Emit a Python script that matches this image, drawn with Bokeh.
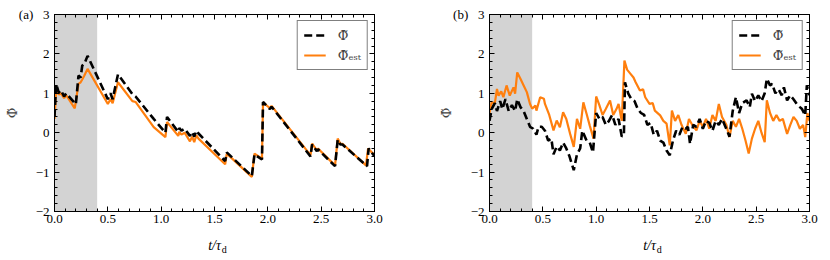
from bokeh.plotting import figure
from bokeh.layouts import row, column
from bokeh.models import (LinearAxis, SingleIntervalTicker, BoxAnnotation, Legend,
                          LegendItem, Range1d)
from bokeh.core.properties import value
from bokeh.embed import file_html
from bokeh.resources import INLINE

# ---------------- data ----------------
# panel (a)
a_t_phi = [0.0, 0.015, 0.04, 0.06, 0.09, 0.11, 0.20, 0.225, 0.245, 0.26, 0.28, 0.31,
           0.50, 0.525, 0.545, 0.595, 0.73, 0.76, 0.93, 1.04, 1.055, 1.16, 1.17, 1.19,
           1.22, 1.27, 1.29, 1.31, 1.33, 1.35, 1.60, 1.615, 1.85, 1.875, 1.945, 1.955,
           2.02, 2.035, 2.40, 2.415, 2.46, 2.47, 2.63, 2.655, 2.68, 2.70, 2.93, 2.945, 3.0]
a_phi = [0.4, 1.24, 1.02, 1.08, 0.92, 1.0, 0.72, 1.45, 1.4, 1.7, 1.75, 1.95,
         0.85, 1.0, 0.85, 1.48, 0.98, 0.92, 0.35, 0.0, 0.4, 0.02, 0.12, 0.05,
         0.1, -0.08, 0.02, -0.1, 0.05, -0.02, -0.72, -0.5, -1.1, -0.55, -0.68, 0.78,
         0.6, 0.66, -0.6, -0.3, -0.47, -0.42, -0.85, -0.18, -0.3, -0.3, -0.85, -0.4, -0.6]
a_t_est = [0.0, 0.015, 0.04, 0.06, 0.09, 0.11, 0.19, 0.225, 0.245, 0.26, 0.28, 0.31,
           0.50, 0.525, 0.545, 0.595, 0.73, 0.76, 0.93, 1.04, 1.055, 1.16, 1.17, 1.19,
           1.22, 1.27, 1.29, 1.31, 1.33, 1.35, 1.60, 1.615, 1.85, 1.875, 1.945, 1.955,
           2.02, 2.035, 2.40, 2.415, 2.46, 2.47, 2.63, 2.655, 2.68, 2.70, 2.92, 2.94, 3.0]
a_est = [0.35, 1.07, 0.97, 1.0, 0.88, 0.95, 0.62, 1.24, 1.28, 1.35, 1.45, 1.62,
         0.73, 0.85, 0.75, 1.28, 0.8, 0.78, 0.14, -0.11, 0.27, -0.08, 0.02, -0.05,
         0.0, -0.22, -0.1, -0.24, -0.07, -0.15, -0.8, -0.53, -1.12, -0.53, -0.66, 0.77,
         0.62, 0.68, -0.57, -0.28, -0.45, -0.4, -0.83, -0.15, -0.28, -0.28, -0.83, -0.4, -0.57]

# panel (b)
b_t_phi = [0.0, 0.02, 0.05, 0.07, 0.10, 0.12, 0.15, 0.18, 0.21, 0.24, 0.26, 0.29, 0.32,
           0.35, 0.38, 0.41, 0.44, 0.46, 0.49, 0.52, 0.55, 0.58, 0.60, 0.63, 0.66, 0.69,
           0.72, 0.75, 0.79, 0.82, 0.85, 0.87, 0.91, 0.94, 0.97, 1.0, 1.03, 1.06, 1.09,
           1.12, 1.15, 1.18, 1.21, 1.24, 1.26, 1.27, 1.30, 1.33, 1.36, 1.39, 1.42, 1.45,
           1.48, 1.51, 1.54, 1.57, 1.60, 1.63, 1.66, 1.69, 1.72, 1.75, 1.78, 1.81, 1.84,
           1.86, 1.88, 1.91, 1.94, 1.97, 2.0, 2.03, 2.06, 2.09, 2.12, 2.15, 2.18, 2.22,
           2.25, 2.28, 2.31, 2.34, 2.37, 2.41, 2.44, 2.46, 2.49, 2.52, 2.55, 2.58, 2.60,
           2.63, 2.65, 2.68, 2.71, 2.74, 2.76, 2.79, 2.82, 2.85, 2.88, 2.91, 2.93, 2.96,
           2.975, 3.0]
b_phi = [0.3, 0.6, 0.75, 0.55, 0.8, 0.6, 0.85, 0.55, 0.7, 0.55, 0.85, 0.65, 0.55,
         0.35, 0.15, 0.1, -0.05, 0.15, 0.15, 0.05, -0.2, -0.15, -0.55, -0.35, -0.45, -0.25,
         -0.4, -0.6, -0.95, -0.55, -0.4, 0.05, -0.2, -0.25, -0.5, 0.5, 0.35, 0.4, 0.2,
         0.3, 0.45, 0.2, 0.35, -0.1, -0.05, 1.28, 1.0, 0.85, 0.8, 0.6, 0.5, 0.45,
         0.2, 0.25, -0.05, 0.05, -0.2, -0.25, -0.45, -0.57, -0.2, 0.05, -0.05, 0.15, 0.1,
         0.15, -0.28, 0.2, 0.15, 0.35, 0.1, 0.3, 0.25, 0.05, 0.3, 0.2, 0.35, 0.1,
         -0.1, 0.55, 0.9, 0.5, 0.75, 0.82, 0.65, 0.99, 0.8, 0.95, 0.8, 1.0, 1.37,
         1.2, 1.24, 1.0, 1.1, 0.95, 1.15, 0.82, 0.95, 0.85, 0.73, 0.65, 0.6, 0.44,
         1.2, 0.95]
b_t_est = [0.0, 0.02, 0.05, 0.07, 0.085, 0.11, 0.13, 0.16, 0.19, 0.225, 0.24, 0.26, 0.29,
           0.32, 0.35, 0.38, 0.40, 0.43, 0.44, 0.475, 0.51, 0.52, 0.56, 0.6, 0.63, 0.66,
           0.69, 0.72, 0.756, 0.79, 0.82, 0.85, 0.88, 0.91, 0.94, 0.975, 1.0, 1.03, 1.06,
           1.09, 1.13, 1.16, 1.19, 1.21, 1.24, 1.265, 1.29, 1.32, 1.35, 1.37, 1.41, 1.44,
           1.46, 1.5, 1.53, 1.55, 1.6, 1.63, 1.66, 1.69, 1.71, 1.74, 1.77, 1.80, 1.84,
           1.87, 1.90, 1.94, 1.97, 2.0, 2.03, 2.06, 2.09, 2.12, 2.15, 2.18, 2.22, 2.25,
           2.28, 2.31, 2.34, 2.37, 2.40, 2.43, 2.46, 2.49, 2.52, 2.55, 2.58, 2.60, 2.63,
           2.66, 2.69, 2.72, 2.75, 2.79, 2.82, 2.85, 2.88, 2.91, 2.94, 2.96, 2.98, 3.0]
b_est = [0.5, 0.77, 0.75, 1.11, 0.94, 1.05, 0.9, 1.2, 0.94, 1.15, 0.99, 1.53, 1.37,
         1.2, 1.03, 0.73, 0.61, 0.69, 0.56, 0.9, 0.86, 0.73, 0.45, 0.06, 0.31, 0.14,
         0.52, 0.35, -0.03, -0.36, 0.35, 0.1, 0.77, 0.48, 0.18, -0.15, 0.92, 0.7, 0.45,
         0.6, 0.82, 0.45, 0.6, 0.73, 0.3, 1.83, 1.6, 1.5, 1.4, 1.28, 1.07, 1.1,
         0.9, 0.73, 0.75, 0.56, 0.44, 0.3, 0.23, -0.32, 0.56, 0.3, 0.45, 0.2, -0.03,
         0.35, 0.2, 0.06, 0.3, 0.15, 0.35, 0.1, 0.45, 0.3, 0.73, 0.4, 0.2, -0.11,
         0.3, 0.15, 0.35, 0.1, -0.2, -0.53, -0.15, 0.1, 0.3, 0.0, -0.24, 0.82, 0.5,
         0.3, 0.45, 0.3, 0.35, -0.03, 0.2, 0.4, 0.3, 0.1, 0.2, -0.11, 0.5, 0.3]

x_ticks = [0.0, 0.5, 1.0, 1.5, 2.0, 2.5, 3.0]
x_tick_labels = ["0.0", "0.5", "1.0", "1.5", "2.0", "2.5", "3.0"]
y_ticks = [-2, -1, 0, 1, 2, 3]
y_tick_labels = ["\u22122", "\u22121", "0", "1", "2", "3"]
shade = (0.0, 0.4)
panel_tags = ["(a)", "(b)"]
legend_labels = ["\u03a6\u0303", "\u03a6\u0303\u2091\u209b\u209c"]
y_label = "\u03a6\u0303"
x_label_main = "t/\u03c4"
x_label_sub = "d"

FONT = "'Liberation Serif', 'DejaVu Serif', serif"
SYMFONT = "'DejaVu Serif', serif"
ORANGE = "#ff7f0e"
MAIN_H = 236
LAB_H = 24


def style_axis(ax):
    ax.axis_line_color = "black"
    ax.axis_line_width = 1
    ax.major_tick_in = 5
    ax.major_tick_out = 0
    ax.minor_tick_in = 3
    ax.minor_tick_out = 0
    ax.major_tick_line_color = "black"
    ax.minor_tick_line_color = "black"
    ax.major_label_text_font = FONT
    ax.major_label_text_font_size = "13px"
    ax.major_label_text_color = "black"


def make_panel(tag, t_phi, phi, t_est, est, width, left, right):
    p = figure(width=width, height=MAIN_H, x_range=Range1d(0, 3), y_range=Range1d(-2, 3),
               output_backend="svg", toolbar_location=None,
               x_axis_type=None, y_axis_type=None,
               min_border_left=left, min_border_right=right,
               min_border_top=14, min_border_bottom=MAIN_H - 14 - 197)
    p.outline_line_color = "black"
    p.grid.visible = False

    xover = {v: s for v, s in zip(x_ticks, x_tick_labels)}
    yover = {v: s for v, s in zip(y_ticks, y_tick_labels)}
    # panel tag sits to the left of the top tick label
    yover[y_ticks[-1]] = tag + "\u00a0\u00a0\u00a0" + y_tick_labels[-1]
    xblank = {v: "" for v in x_ticks}
    yblank = {v: "" for v in y_ticks}

    bottom = LinearAxis(ticker=SingleIntervalTicker(interval=0.5, num_minor_ticks=5),
                        major_label_overrides=xover)
    style_axis(bottom)
    bottom.major_label_standoff = 3
    top = LinearAxis(ticker=SingleIntervalTicker(interval=0.5, num_minor_ticks=5),
                     major_label_overrides=xblank)
    style_axis(top)
    top.major_label_standoff = 0
    left_ax = LinearAxis(ticker=SingleIntervalTicker(interval=1, num_minor_ticks=5),
                         major_label_overrides=yover, axis_label=y_label)
    style_axis(left_ax)
    left_ax.major_label_standoff = 5
    left_ax.axis_label_text_font = SYMFONT
    left_ax.axis_label_text_font_style = "normal"
    left_ax.axis_label_text_font_size = "13px"
    left_ax.axis_label_standoff = -4
    right_ax = LinearAxis(ticker=SingleIntervalTicker(interval=1, num_minor_ticks=5),
                          major_label_overrides=yblank)
    style_axis(right_ax)
    right_ax.major_label_standoff = 0
    p.add_layout(bottom, "below")
    p.add_layout(top, "above")
    p.add_layout(left_ax, "left")
    p.add_layout(right_ax, "right")

    p.add_layout(BoxAnnotation(left=shade[0], right=shade[1], fill_color="#d3d3d3",
                               fill_alpha=1.0, line_color=None, level="underlay"))

    r_est = p.line(t_est, est, line_color=ORANGE, line_width=2.2)
    r_phi = p.line(t_phi, phi, line_color="black", line_width=2.6, line_dash="8 4")

    leg = Legend(items=[LegendItem(label=legend_labels[0], renderers=[r_phi]),
                        LegendItem(label=legend_labels[1], renderers=[r_est])],
                 location="top_right")
    leg.label_text_font = SYMFONT
    leg.label_text_font_size = "13px"
    leg.glyph_width = 22
    leg.glyph_height = 16
    leg.label_standoff = 12
    leg.spacing = 4
    leg.padding = 6
    leg.margin = 6
    leg.border_line_color = "black"
    leg.border_line_width = 1
    leg.background_fill_alpha = 1.0
    p.add_layout(leg, "center")

    # strip below holding the x-axis label t/tau_d, aligned with the frame
    q = figure(width=width, height=LAB_H, x_range=p.x_range, y_range=Range1d(0, LAB_H),
               output_backend="svg", toolbar_location=None,
               x_axis_type=None, y_axis_type=None,
               min_border_left=left, min_border_right=right,
               min_border_top=0, min_border_bottom=0)
    q.outline_line_color = None
    q.grid.visible = False
    q.text(x=[1.561], y=[LAB_H - 9], text=[x_label_main], text_font=value(FONT),
           text_font_size="14px", text_font_style="italic", text_align="right",
           text_baseline="middle", text_color="black")
    q.text(x=[1.568], y=[LAB_H - 13], text=[x_label_sub], text_font=value(FONT),
           text_font_size="10px", text_align="left", text_baseline="middle",
           text_color="black")
    return column(p, q)


pa = make_panel(panel_tags[0], a_t_phi, a_phi, a_t_est, a_est, 423, 54, 49)
pb = make_panel(panel_tags[1], b_t_phi, b_phi, b_t_est, b_est, 407, 66, 21)

layout = row(pa, pb)
open("out.html", "w").write(file_html(layout, INLINE))
